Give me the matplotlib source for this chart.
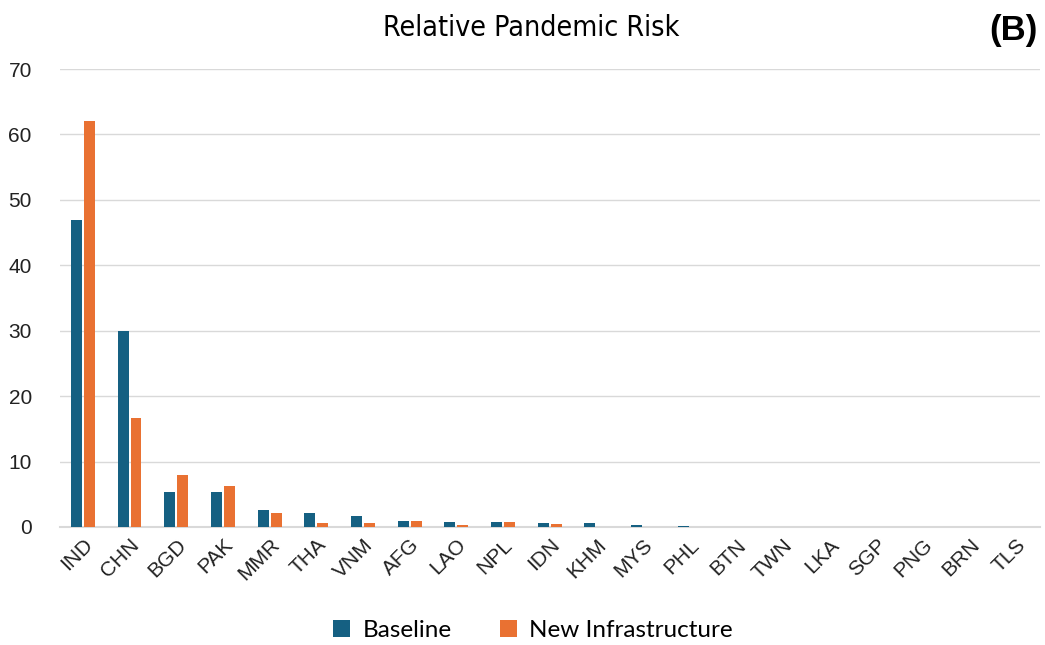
import numpy as np
import matplotlib.pyplot as plt

countries = ['IND', 'CHN', 'BGD', 'PAK', 'MMR', 'THA', 'VNM', 'AFG', 'LAO', 'NPL', 'IDN',
             'KHM', 'MYS', 'PHL', 'BTN', 'TWN', 'LKA', 'SGP', 'PNG', 'BRN', 'TLS']
baseline = [46.9, 30.0, 5.3, 5.3, 2.6, 2.2, 1.6, 0.95, 0.75, 0.75, 0.6,
            0.55, 0.35, 0.2, 0.02, 0.02, 0.01, 0.01, 0.01, 0.0, 0.0]
new_infra = [62.1, 16.6, 7.9, 6.2, 2.1, 0.6, 0.6, 0.95, 0.25, 0.75, 0.4,
             0.0, 0.0, 0.0, 0.0, 0.0, 0.0, 0.0, 0.0, 0.0, 0.0]

plt.rcParams['font.family'] = ['Liberation Sans', 'DejaVu Sans']

fig = plt.figure(figsize=(10.45, 6.45), dpi=100)
ax = fig.add_axes([0.057, 0.183, 0.938, 0.710])

x = np.arange(len(countries))
w = 0.235
ax.bar(x - w / 2 - 0.02, baseline, w, color='#156082', label='Baseline', zorder=3)
ax.bar(x + w / 2 + 0.02, new_infra, w, color='#E97132', label='New Infrastructure', zorder=3)

ax.set_xlim(-0.5, len(countries) - 0.5)
ax.set_ylim(0, 70)
ax.set_yticks(range(0, 71, 10))
ax.yaxis.grid(True, color='#d9d9d9', linewidth=1, zorder=0)
ax.set_xticks(x)
ax.set_xticklabels(countries, rotation=45, ha='right', rotation_mode='anchor', fontsize=15)
for lbl in ax.get_yticklabels():
    lbl.set_fontsize(15)
ax.tick_params(length=0, colors='#222222')
ax.tick_params(axis='y', pad=20)
ax.tick_params(axis='x', pad=6)
for s in ['top', 'right', 'left']:
    ax.spines[s].set_visible(False)
ax.spines['bottom'].set_color('#d9d9d9')
ax.spines['bottom'].set_linewidth(1.5)

fig.text(0.508, 0.957, 'Relative Pandemic Risk', ha='center', va='center', fontsize=20.5,
         family='DejaVu Sans', fontstretch='condensed')
fig.text(0.947, 0.952, '(B)', ha='left', va='center', fontsize=25, fontweight='bold')

fig.legend(loc='center', bbox_to_anchor=(0.51, 0.022), ncol=2, frameon=False,
           handlelength=0.7, handleheight=0.7, columnspacing=2.0,
           handletextpad=0.5, prop={'family': 'Lato', 'size': 17.5})

fig.savefig('out.png', dpi=100)
